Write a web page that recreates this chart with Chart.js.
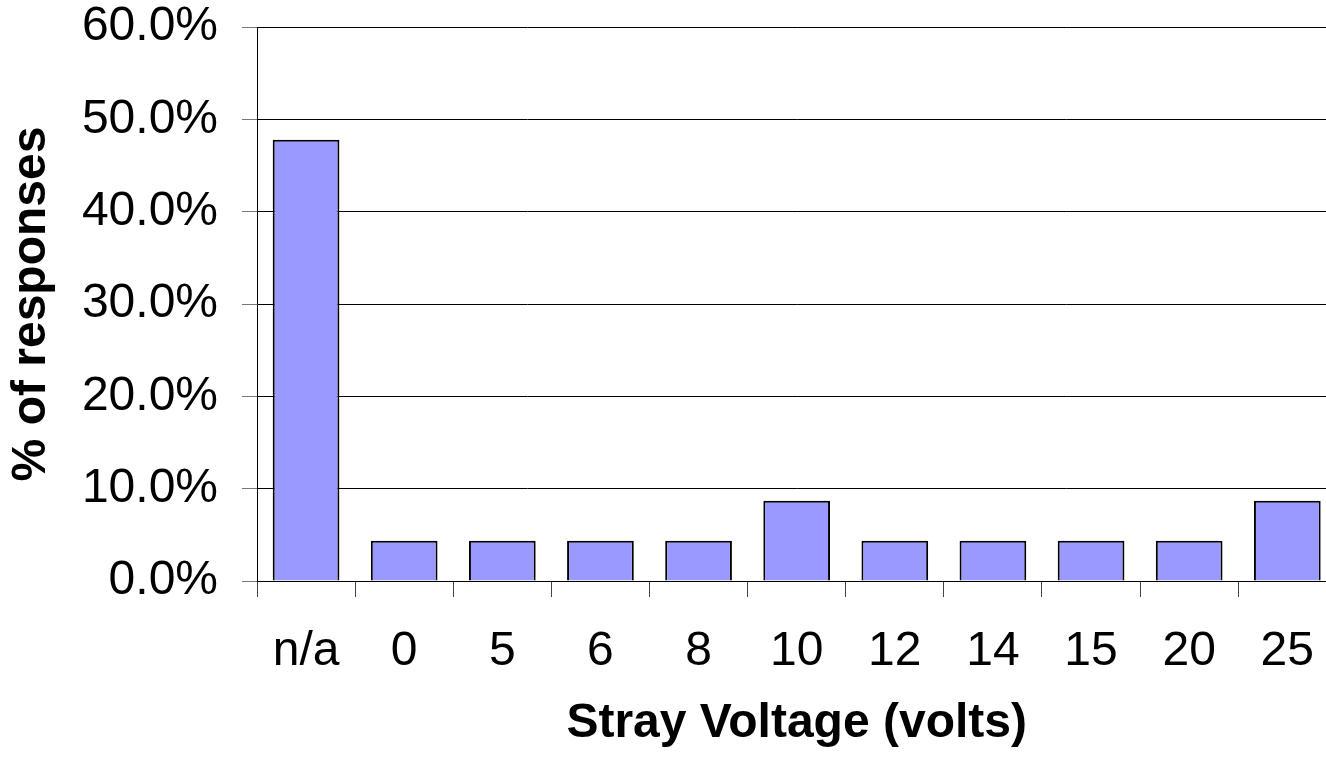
<!DOCTYPE html>
<html>
<head>
<meta charset="utf-8">
<title>Stray Voltage</title>
<script src="https://cdn.jsdelivr.net/npm/chart.js@4.4.1/dist/chart.umd.min.js"></script>
<style>
  html, body { margin: 0; padding: 0; background: #fff; overflow: hidden; }
  .chart-box { position: relative; width: 1340px; height: 759px; }
</style>
</head>
<body>
<div class="chart-box"><canvas id="barChart"></canvas></div>
<script>
const categories = ['n/a', '0', '5', '6', '8', '10', '12', '14', '15', '20', '25'];
const responses = [47.8, 4.35, 4.35, 4.35, 4.35, 8.7, 4.35, 4.35, 4.35, 4.35, 8.7];
const yTicks = [0, 10, 20, 30, 40, 50, 60];

const FONT = "'Liberation Sans', Arial, Helvetica, sans-serif";

new Chart(document.getElementById('barChart'), {
  type: 'bar',
  data: {
    labels: categories,
    datasets: [{
      label: '% of responses',
      data: responses,
      backgroundColor: '#9999ff',
      borderColor: '#000',
      borderWidth: 2,
      borderSkipped: 'bottom',
      barPercentage: 0.68,
      categoryPercentage: 1
    }]
  },
  options: {
    responsive: true,
    maintainAspectRatio: false,
    animation: false,
    layout: { padding: 0 },
    plugins: {
      legend: { display: false },
      tooltip: { enabled: false }
    },
    scales: {
      x: {
        offset: true,
        grid: {
          offset: true,
          drawOnChartArea: false,
          drawTicks: true,
          tickLength: 16,
          tickColor: '#444'
        },
        border: { display: true, color: '#000', width: 1 },
        ticks: {
          color: '#000',
          padding: 26,
          maxRotation: 0,
          autoSkip: false,
          font: { family: FONT, size: 48 }
        },
        title: {
          display: true,
          text: 'Stray Voltage (volts)',
          color: '#000',
          padding: { top: 0, bottom: 6 },
          font: { family: FONT, size: 48, weight: 'bold' }
        },
        afterFit(scale) { scale.height = 178; }
      },
      y: {
        min: 0,
        max: 60,
        afterBuildTicks(scale) {
          scale.ticks = yTicks.map(v => ({ value: v }));
        },
        grid: {
          color: '#000',
          lineWidth: 1,
          drawTicks: true,
          tickLength: 15,
          tickColor: '#777'
        },
        border: { display: true, color: '#000', width: 1 },
        ticks: {
          color: '#000',
          padding: 24,
          font: { family: FONT, size: 48 },
          callback: v => v.toFixed(1) + '%'
        },
        title: {
          display: true,
          text: '% of responses',
          color: '#000',
          padding: { top: 3, bottom: 0 },
          font: { family: FONT, size: 48, weight: 'bold' }
        },
        afterFit(scale) {
          scale.width = 257;
          scale.paddingTop = 27;
          scale.paddingBottom = 0;
        }
      }
    }
  }
});
</script>
</body>
</html>
